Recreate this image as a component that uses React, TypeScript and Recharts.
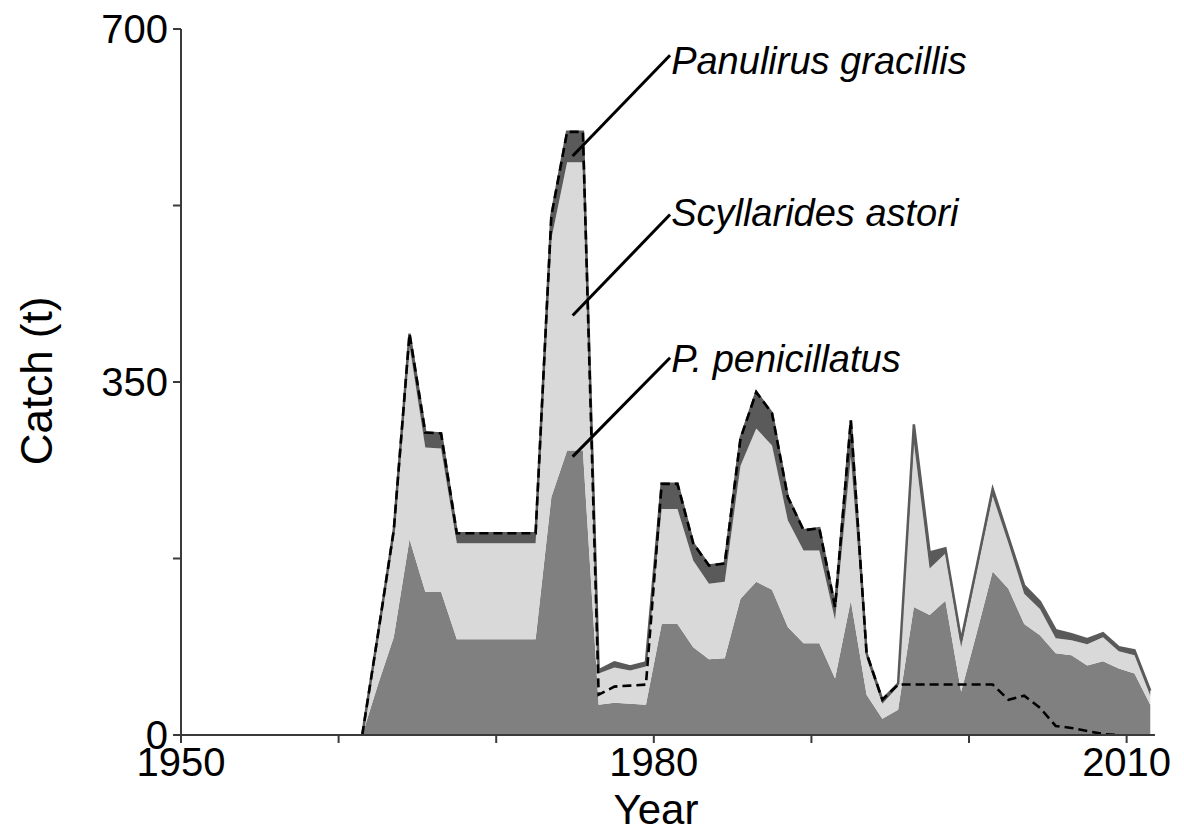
import React from 'react';
import {
  ComposedChart,
  Area,
  Line,
  XAxis,
  YAxis,
  ReferenceLine,
  ReferenceDot,
  Label,
} from 'recharts';

// years of the catch record (plotted at mid-year)
const years = [
  1961, 1962, 1963, 1964, 1965, 1966, 1967, 1968, 1969, 1970,
  1971, 1972, 1973, 1974, 1975, 1976, 1977, 1978, 1979, 1980,
  1981, 1982, 1983, 1984, 1985, 1986, 1987, 1988, 1989, 1990,
  1991, 1992, 1993, 1994, 1995, 1996, 1997, 1998, 1999, 2000,
  2001, 2002, 2003, 2004, 2005, 2006, 2007, 2008, 2009, 2010,
  2011,
];

// P. penicillatus (bottom layer), t
const penicillatus = [
  0, 50, 97, 194, 142, 142, 95, 95, 95, 95,
  95, 95, 236, 282, 282, 30, 32, 31, 30, 110,
  110, 87, 75, 76, 135, 152, 144, 107, 91, 91,
  56, 133, 40, 16, 25, 127, 119, 133, 43, 102,
  162, 145, 110, 99, 81, 79, 69, 73, 66, 61,
  30,
];

// Scyllarides astori (middle layer), t
const astori = [
  0, 48, 103, 192, 143, 142, 95, 95, 95, 95,
  95, 95, 256, 286, 286, 31, 35, 33, 38, 114,
  114, 86, 75, 76, 132, 152, 143, 106, 92, 92,
  58, 143, 36, 15, 23, 163, 46, 47, 44, 61,
  75, 45, 30, 26, 15, 15, 21, 24, 17, 18,
  9,
];

// Panulirus gracillis (top layer), t
const gracillis = [
  0, 2, 3, 12, 15, 15, 10, 10, 10, 10,
  10, 10, 23, 30, 30, 3, 5, 4, 4, 25,
  25, 17, 18, 18, 27, 36, 32, 23, 20, 22,
  13, 36, 5, 4, 3, 18, 16, 5, 7, 5,
  7, 6, 8, 7, 8, 6, 5, 4, 4, 5,
  5,
];

// dashed line (reported catch), t
const reported = [
  0, 100, 203, 398, 300, 299, 200, 200, 200, 200,
  200, 200, 515, 598, 598, 40, 48, 49, 50, 249,
  249, 190, 168, 170, 294, 340, 319, 236, 203, 205,
  127, 312, 81, 35, 50, 50, 50, 50, 50, 50,
  50, 35, 39, 27, 9, 7, 4, 1, 0, null,
  null,
];

const xTicks = [1950, 1960, 1970, 1980, 1990, 2000, 2010];
const xTickLabels = [1950, 1980, 2010];
const yTicks = [0, 175, 350, 525, 700];
const yTickLabels = [0, 350, 700];

// species annotations: leader line start/end and text anchor (data units)
const speciesNames = ['Panulirus gracillis', 'Scyllarides astori', 'P. penicillatus'];
const leaderFrom = [
  { x: 1974.85, y: 574 },
  { x: 1974.85, y: 416 },
  { x: 1974.85, y: 276 },
];
const leaderTo = [
  { x: 1981.03, y: 674 },
  { x: 1981.03, y: 516 },
  { x: 1981.03, y: 374 },
];
const textAt = [
  { x: 1981.1, y: 655 },
  { x: 1981.1, y: 505 },
  { x: 1981.1, y: 360 },
];

const data = years.map((yr, i) => ({
  x: yr + 0.5,
  pen: penicillatus[i],
  sca: astori[i],
  pan: gracillis[i],
  rep: reported[i],
}));

const FONT = '"Liberation Sans", Arial, Helvetica, sans-serif';
const AXIS = '#3a3a3a';

export default function App() {
  return (
    <ComposedChart
      width={1170}
      height={827}
      data={data}
      margin={{ top: 21, right: 23, bottom: 50, left: 73 }}
    >
      <XAxis
        type="number"
        dataKey="x"
        domain={[1950, 2011.8]}
        ticks={xTicks}
        interval={0}
        allowDataOverflow
        height={50}
        tickSize={8}
        tickMargin={5}
        tickFormatter={(v: number) => (xTickLabels.includes(v) ? String(v) : '')}
        axisLine={{ stroke: AXIS, strokeWidth: 2 }}
        tickLine={{ stroke: AXIS, strokeWidth: 2 }}
        tick={{ fill: '#000', fontSize: 40, fontFamily: FONT }}
      >
        <Label
          content={() => (
            <text x={648} y={816} textAnchor="middle" fontSize={42} fontFamily={FONT} fill="#000">
              Year
            </text>
          )}
        />
      </XAxis>
      <YAxis
        type="number"
        domain={[0, 700]}
        ticks={yTicks}
        interval={0}
        width={100}
        tickSize={8}
        tickMargin={5}
        tickFormatter={(v: number) => (yTickLabels.includes(v) ? String(v) : '')}
        axisLine={{ stroke: AXIS, strokeWidth: 2 }}
        tickLine={{ stroke: AXIS, strokeWidth: 2 }}
        tick={{ fill: '#000', fontSize: 40, fontFamily: FONT }}
      >
        <Label
          content={() => (
            <text
              x={28}
              y={373}
              textAnchor="middle"
              dominantBaseline="central"
              transform="rotate(-90 28 373)"
              fontSize={44}
              fontFamily={FONT}
              fill="#000"
            >
              Catch (t)
            </text>
          )}
        />
      </YAxis>

      <Area
        type="linear"
        dataKey="pen"
        stackId="catch"
        fill="#808080"
        fillOpacity={1}
        stroke="none"
        isAnimationActive={false}
      />
      <Area
        type="linear"
        dataKey="sca"
        stackId="catch"
        fill="#d9d9d9"
        fillOpacity={1}
        stroke="none"
        isAnimationActive={false}
      />
      <Area
        type="linear"
        dataKey="pan"
        stackId="catch"
        fill="#5a5a5a"
        fillOpacity={1}
        stroke="#5a5a5a"
        strokeWidth={2.5}
        isAnimationActive={false}
      />
      <Line
        type="linear"
        dataKey="rep"
        stroke="#000"
        strokeWidth={2.6}
        strokeDasharray="9 5"
        dot={false}
        activeDot={false}
        connectNulls={false}
        isAnimationActive={false}
      />

      {speciesNames.map((name, i) => (
        <ReferenceLine
          key={`lead-${i}`}
          segment={[leaderFrom[i], leaderTo[i]]}
          stroke="#000"
          strokeWidth={3}
        />
      ))}
      {speciesNames.map((name, i) => (
        <ReferenceDot
          key={`name-${i}`}
          x={textAt[i].x}
          y={textAt[i].y}
          r={0}
          shape={(p: any) => (
            <text
              x={p.cx}
              y={p.cy}
              fontSize={38}
              fontStyle="italic"
              fontFamily={FONT}
              fill="#000"
            >
              {name}
            </text>
          )}
        />
      ))}
    </ComposedChart>
  );
}
